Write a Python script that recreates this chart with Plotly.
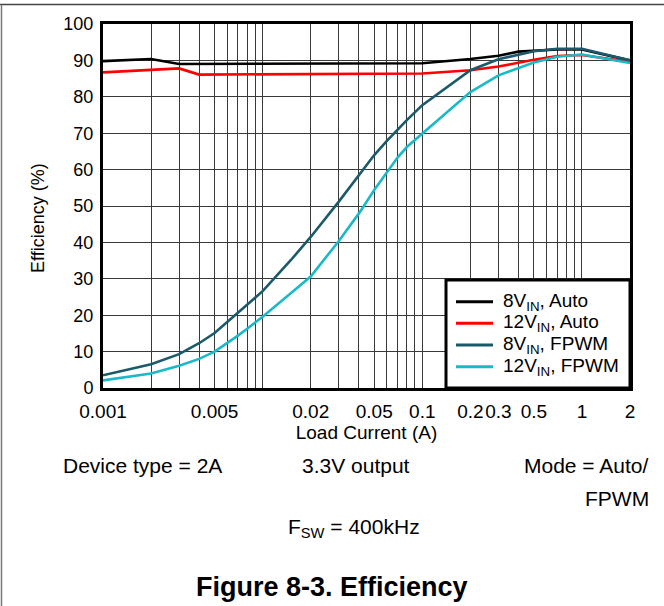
import numpy as np
import plotly.graph_objects as go

# ---------------- data ----------------
black_x = [0.001, 0.002, 0.003, 0.01, 0.1, 0.2, 0.3, 0.4, 0.5, 0.7, 1, 2]
black_y = [89.8, 90.4, 89.0, 89.0, 89.2, 90.4, 91.3, 92.4, 92.7, 93.0, 93.0, 90.0]

red_x = [0.001, 0.002, 0.003, 0.004, 0.01, 0.1, 0.2, 0.3, 0.5, 0.7, 1, 2]
red_y = [86.7, 87.5, 87.8, 86.1, 86.2, 86.4, 87.3, 88.3, 90.2, 91.2, 91.5, 89.6]

fpwm_x = [0.001, 0.002, 0.003, 0.004, 0.005, 0.006, 0.007, 0.008, 0.01, 0.015,
          0.02, 0.03, 0.04, 0.05, 0.06, 0.07, 0.08, 0.1, 0.2, 0.3, 0.5, 0.7, 1, 2]
dark_y = [3.5, 6.5, 9.3, 12.3, 15.1, 18.1, 20.6, 22.9, 26.6, 35.1,
          41.5, 51.2, 58.5, 64.0, 67.9, 71.1, 73.6, 77.7, 87.3, 90.3, 92.5, 93.2, 93.2, 90.0]
cyan_y = [2.1, 4.0, 6.1, 8.0, 10.0, 12.3, 14.4, 16.3, 19.6, 26.0,
          30.6, 40.4, 47.9, 54.4, 59.4, 63.3, 66.2, 69.9, 81.3, 85.9, 89.4, 91.0, 91.6, 89.3]

names = ["8V<sub>IN</sub>, Auto", "12V<sub>IN</sub>, Auto",
         "8V<sub>IN</sub>, FPWM", "12V<sub>IN</sub>, FPWM"]
colors = ["#000000", "#ff0000", "#1b5a6b", "#19b9c9"]

x_grid = [m * 10.0 ** e for e in (-3, -2, -1) for m in range(1, 10)] + [1, 2]
x_label_vals = [0.001, 0.005, 0.02, 0.05, 0.1, 0.2, 0.3, 0.5, 1, 2]
x_label_text = ["0.001", "0.005", "0.02", "0.05", "0.1", "0.2", "0.3", "0.5", "1", "2"]
y_ticks = list(range(0, 101, 10))

x_title = "Load Current (A)"
y_title = "Efficiency (%)"
notes = ["Device type = 2A", "3.3V output", "Mode = Auto/", "FPWM", "F<sub>SW</sub> = 400kHz"]
caption = "Figure 8-3. Efficiency"

# ---------------- figure ----------------
FONT = "Liberation Sans, Arial, sans-serif"
W, H = 664, 606
L, R, T, B = 103, 34, 24, 218
pw, ph = W - L - R, H - T - B

def px(xp):
    return (xp - L) / pw

def py(yp):
    return (H - B - yp) / ph

fig = go.Figure()
series = [(black_x, black_y), (red_x, red_y), (fpwm_x, dark_y), (fpwm_x, cyan_y)]
for (xs, ys), n, c in zip(series, names, colors):
    fig.add_trace(go.Scatter(x=xs, y=ys, mode="lines", name=n, showlegend=False,
                             hoverinfo="skip", line=dict(color=c, width=2.6)))

def label_for(v):
    for lv, lt in zip(x_label_vals, x_label_text):
        if abs(lv - v) / lv < 1e-6:
            return lt
    return ""

fig.update_xaxes(type="log", range=[-3, np.log10(2)],
                 tickvals=x_grid, ticktext=[label_for(v) for v in x_grid],
                 tickangle=0,
                 showgrid=True, gridcolor="#3a3a3a", gridwidth=1,
                 showline=True, linecolor="black", linewidth=3, mirror=True,
                 ticks="", ticklabelstandoff=4,
                 tickfont=dict(size=19, color="black", family=FONT),
                 title=dict(text=x_title, font=dict(size=19, color="black", family=FONT),
                            standoff=3),
                 zeroline=False)
fig.update_yaxes(range=[0, 100], tickvals=y_ticks,
                 showgrid=True, gridcolor="#3a3a3a", gridwidth=1,
                 showline=True, linecolor="black", linewidth=3, mirror=True,
                 ticks="", ticklabelstandoff=3,
                 tickfont=dict(size=18, color="black", family=FONT),
                 zeroline=False)

# y-axis title (placed slightly below the plot centre, as in the original)
fig.add_annotation(text=y_title, x=px(38), y=py(218), xref="paper", yref="paper",
                   textangle=-90, xanchor="center", yanchor="middle", showarrow=False,
                   font=dict(size=18, color="black", family=FONT))

# legend box (drawn as layout shapes + text so entry spacing matches)
leg_left, leg_right, leg_top, leg_bottom = 446, 630, 280, 388
fig.add_shape(type="rect", xref="paper", yref="paper", layer="above",
              x0=px(leg_left), x1=px(leg_right), y0=py(leg_bottom), y1=py(leg_top),
              fillcolor="white", line=dict(color="black", width=3))
entry_y = [301.7, 323.3, 345.0, 366.7]
for n, c, ey in zip(names, colors, entry_y):
    fig.add_shape(type="line", xref="paper", yref="paper", layer="above",
                  x0=px(456), x1=px(493), y0=py(ey), y1=py(ey),
                  line=dict(color=c, width=3))
    fig.add_annotation(text=n, x=px(501), y=py(ey), xref="paper", yref="paper",
                       xanchor="left", yanchor="middle", showarrow=False,
                       font=dict(size=19, color="black", family=FONT))

ann = [
    dict(text=notes[0], x=px(61), y=py(466), xanchor="left", yanchor="middle"),
    dict(text=notes[1], x=px(300), y=py(466), xanchor="left", yanchor="middle"),
    dict(text=notes[2], x=px(651), y=py(466), xanchor="right", yanchor="middle"),
    dict(text=notes[3], x=px(651), y=py(498), xanchor="right", yanchor="middle"),
    dict(text=notes[4], x=px(286), y=py(528), xanchor="left", yanchor="middle"),
]
for a in ann:
    fig.add_annotation(text=a["text"], x=a["x"], y=a["y"], xref="paper", yref="paper",
                       xanchor=a["xanchor"], yanchor=a["yanchor"], showarrow=False,
                       font=dict(size=21, color="black", family=FONT))
fig.add_annotation(text="<b>" + caption + "</b>", x=px(332), y=py(587), xref="paper", yref="paper",
                   xanchor="center", yanchor="middle", showarrow=False,
                   font=dict(size=27, color="black", family=FONT))

# outer frame (top and left edges)
fig.add_shape(type="line", xref="paper", yref="paper", x0=px(0), x1=px(W), y0=py(4.5), y1=py(4.5),
              line=dict(color="#444444", width=1.5))
fig.add_shape(type="line", xref="paper", yref="paper", x0=px(1.5), x1=px(1.5), y0=py(4.5), y1=py(H),
              line=dict(color="#777777", width=1.5))

fig.update_layout(
    width=W, height=H, margin=dict(l=L, r=R, t=T, b=B),
    paper_bgcolor="white", plot_bgcolor="white",
    font=dict(family=FONT, color="black"),
    showlegend=False, hovermode=False,
)

fig.write_html("out.html", config={"displayModeBar": False, "staticPlot": True},
               post_script="document.body.style.margin='0';document.body.style.overflow='hidden';")
